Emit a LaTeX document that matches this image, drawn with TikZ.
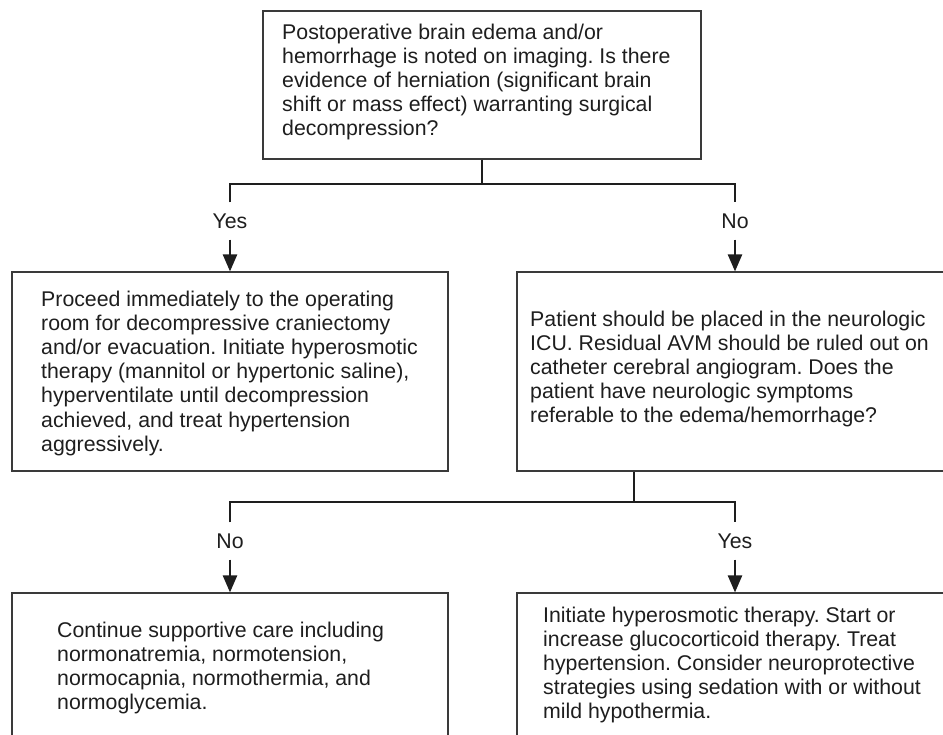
\documentclass[tikz,border=0pt]{standalone}
\usepackage{fontspec}
\setmainfont{Liberation Sans}
\usetikzlibrary{arrows.meta}
\definecolor{boxline}{HTML}{3A3A3A}
\definecolor{ink}{HTML}{1E1E1E}
\frenchspacing
\begin{document}
\begin{tikzpicture}[x=1pt,y=-1pt,
  box/.style={draw=boxline, line width=1.1pt, rectangle, inner sep=0pt, fill=none},
  txt/.style={anchor=north west, inner sep=0pt, align=left, text=ink,
    font=\fontsize{21.3}{24.2}\selectfont\frenchspacing},
  lab/.style={inner sep=0pt, minimum height=37pt, text=ink,
    font=\fontsize{21.3}{24.2}\selectfont},
  conn/.style={draw=ink, line width=2.3pt},
  arr/.style={conn, -{Triangle[length=17pt,width=14pt]}}]
\clip (0,0) rectangle (943,735);
\fill[white] (0,0) rectangle (943,735);

% boxes
\node[box, minimum width=438pt, minimum height=148pt] (top) at (482,85) {};
\node[box, minimum width=436pt, minimum height=199pt] (lbox) at (230,371.5) {};
\node[box, minimum width=436pt, minimum height=199pt] (rbox) at (735,371.5) {};
\node[box, minimum width=436pt, minimum height=207pt] (blbox) at (230,696.5) {};
\node[box, minimum width=436pt, minimum height=207pt] (brbox) at (735,696.5) {};

% texts
\node[txt] (toptxt) at (282,23.5) {Postoperative brain edema and/or\\hemorrhage is noted on imaging. Is there\\evidence of herniation (significant brain\\shift or mass effect) warranting surgical\\decompression?};
\node[txt] (ltxt) at (41,290.5) {Proceed immediately to the operating\\room for decompressive craniectomy\\and/or evacuation. Initiate hyperosmotic\\therapy (mannitol or hypertonic saline),\\hyperventilate until decompression\\achieved, and treat hypertension\\aggressively.};
\node[txt] (rtxt) at (530,310.5) {Patient should be placed in the neurologic\\ICU. Residual AVM should be ruled out on\\catheter cerebral angiogram. Does the\\patient have neurologic symptoms\\referable to the edema/hemorrhage?};
\node[txt] (bltxt) at (57,621.5) {Continue supportive care including\\normonatremia, normotension,\\normocapnia, normothermia, and\\normoglycemia.};
\node[txt] (brtxt) at (543,606.5) {Initiate hyperosmotic therapy. Start or\\increase glucocorticoid therapy. Treat\\hypertension. Consider neuroprotective\\strategies using sedation with or without\\mild hypothermia.};

% labels
\node[lab] (yes1) at (230,221) {Yes};
\node[lab] (no1) at (735,221) {No};
\node[lab] (no2) at (230,541) {No};
\node[lab] (yes2) at (735,541) {Yes};

% junctions
\coordinate (j1) at (482,184);
\coordinate (j2) at (634,502);

% connectors
\draw[conn] (top.south) -- (j1);
\draw[conn] (yes1.north) |- (j1) -| (no1.north);
\draw[arr] (yes1.south) -- (lbox.north);
\draw[arr] (no1.south) -- (rbox.north);
\draw[conn] (rbox.south -| j2) -- (j2);
\draw[conn] (no2.north) |- (j2) -| (yes2.north);
\draw[arr] (no2.south) -- (blbox.north);
\draw[arr] (yes2.south) -- (brbox.north);
\end{tikzpicture}
\end{document}
